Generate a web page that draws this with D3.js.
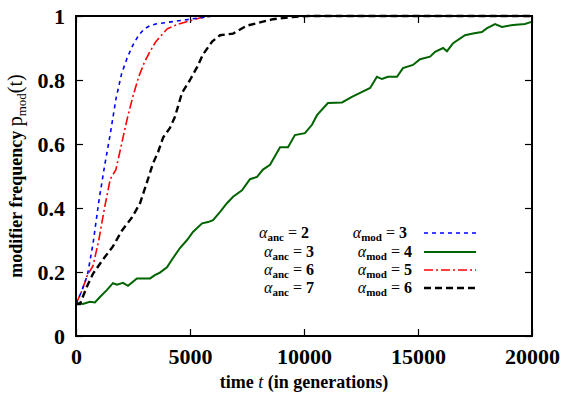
<!DOCTYPE html>
<html>
<head>
<meta charset="utf-8">
<script src="https://cdn.jsdelivr.net/npm/d3@7"></script>
<style>
  body { margin: 0; background: #fff; }
</style>
</head>
<body>
<div id="chart"></div>
<script>
// time points (generations) and modifier frequency for each run
const tBlue = [0, 250, 500, 750, 1000, 1250, 1500, 1750, 2000, 2250, 2500, 2750, 3000, 3250, 3500, 4000, 4500, 5000, 5500, 6000, 20000];
const pBlue = [0.10, 0.14, 0.19, 0.29, 0.42, 0.53, 0.63, 0.74, 0.82, 0.87, 0.91, 0.94, 0.96, 0.97, 0.975, 0.98, 0.985, 0.99, 0.995, 1.0, 1.0];

const tRed = [0, 250, 500, 750, 1000, 1250, 1500, 1750, 2000, 2250, 2500, 2750, 3000, 3250, 3500, 3750, 4000, 4500, 5000, 5500, 6000, 20000];
const pRed = [0.10, 0.14, 0.19, 0.22, 0.30, 0.40, 0.49, 0.52, 0.60, 0.68, 0.75, 0.81, 0.855, 0.89, 0.92, 0.94, 0.96, 0.975, 0.985, 0.995, 1.0, 1.0];

const tBlack = [0, 175, 480, 750, 1190, 1620, 2020, 2450, 2810, 3110, 3380, 3600, 3820, 4120, 4340, 4650, 5000, 5310, 5570, 5970, 6320, 6890, 7500, 8070, 8640, 9520, 10200, 20000];
const pBlack = [0.10, 0.10, 0.155, 0.195, 0.24, 0.28, 0.33, 0.37, 0.415, 0.48, 0.54, 0.575, 0.62, 0.65, 0.685, 0.76, 0.80, 0.84, 0.88, 0.92, 0.94, 0.945, 0.97, 0.98, 0.99, 0.997, 1.0, 1.0];

const tGreen = [0, 90, 300, 610, 830, 1050, 1360, 1620, 1800, 2060, 2280, 2670, 2960, 3250, 3460, 3680, 3990, 4250, 4560, 4870, 5130, 5530, 5790, 6010, 6320, 6620, 6890, 7280, 7630, 7940, 8200, 8510, 8950, 9300, 9600, 10040, 10350, 10570, 11050, 11670, 12100, 12460, 12900, 13200, 13420, 13680, 14080, 14340, 14780, 15090, 15530, 15750, 16100, 16270, 16540, 17060, 17410, 17800, 18030, 18380, 18680, 19170, 19690, 19910, 20000];
const pGreen = [0.10, 0.103, 0.10, 0.107, 0.105, 0.122, 0.144, 0.165, 0.16, 0.166, 0.157, 0.18, 0.18, 0.18, 0.19, 0.198, 0.215, 0.243, 0.275, 0.30, 0.325, 0.352, 0.356, 0.362, 0.388, 0.415, 0.435, 0.455, 0.49, 0.497, 0.52, 0.535, 0.59, 0.59, 0.628, 0.634, 0.66, 0.69, 0.728, 0.73, 0.747, 0.76, 0.775, 0.81, 0.803, 0.81, 0.81, 0.837, 0.847, 0.865, 0.873, 0.888, 0.90, 0.89, 0.915, 0.94, 0.945, 0.95, 0.962, 0.975, 0.966, 0.972, 0.975, 0.98, 0.982];

const xTicks = [0, 5000, 10000, 15000, 20000];
const yTicks = [0, 0.2, 0.4, 0.6, 0.8, 1];

const series = [
  {anc: 2, mod: 3, t: tBlue,  p: pBlue,  color: "#0000ff", dash: "4,4",       width: 1.6},
  {anc: 3, mod: 4, t: tGreen, p: pGreen, color: "#006400", dash: null,        width: 2},
  {anc: 6, mod: 5, t: tRed,   p: pRed,   color: "#ff0000", dash: "9,3,2,3",   width: 1.6},
  {anc: 7, mod: 6, t: tBlack, p: pBlack, color: "#000000", dash: "7,4",       width: 2.4}
];
// draw order like the reference (green under the others)
const drawOrder = [1, 3, 2, 0];

const serif = "'Liberation Serif', 'Times New Roman', 'DejaVu Serif', serif";

const width = 562, height = 396,
    margin = ({top: 16, right: 30, bottom: 60, left: 76});

let svg = d3.select("#chart")
    .append("svg")
    .attr("width", width)
    .attr("height", height)
    .style("font-family", serif);

let x = d3.scaleLinear()
    .domain([0, 20000])
    .range([margin.left, width - margin.right]);

let y = d3.scaleLinear()
    .domain([0, 1])
    .range([height - margin.bottom, margin.top]);

const tick = 7;

const styleAxis = g => {
    g.attr("font-family", null);
    g.select(".domain").remove();
    g.selectAll(".tick line").attr("stroke", "#000").attr("stroke-width", 1.2);
    g.selectAll(".tick text")
        .style("font-family", serif)
        .attr("font-weight", "bold")
        .attr("font-size", 22)
        .attr("fill", "#000");
};

svg.append("g")
    .attr("transform", `translate(0,${height - margin.bottom})`)
    .call(d3.axisBottom(x).tickValues(xTicks).tickFormat(d3.format("d")).tickSize(-tick).tickPadding(12))
    .call(styleAxis);

svg.append("g")
    .attr("transform", `translate(${margin.left},0)`)
    .call(d3.axisLeft(y).tickValues(yTicks).tickFormat(d => d === 0 || d === 1 ? d : d3.format(".1f")(d)).tickSize(-tick).tickPadding(11))
    .call(styleAxis);

svg.append("g")
    .attr("transform", `translate(0,${margin.top})`)
    .call(d3.axisTop(x).tickValues(xTicks).tickFormat("").tickSize(-tick))
    .call(styleAxis);

svg.append("g")
    .attr("transform", `translate(${width - margin.right},0)`)
    .call(d3.axisRight(y).tickValues(yTicks).tickFormat("").tickSize(-tick))
    .call(styleAxis);

// curves
let line = d3.line()
    .x(d => x(d[0]))
    .y(d => y(d[1]));

for (let i of drawOrder) {
    let s = series[i];
    svg.append("path")
        .datum(s.t.map((t, j) => [t, s.p[j]]))
        .attr("fill", "none")
        .attr("stroke", s.color)
        .attr("stroke-width", s.width)
        .attr("stroke-dasharray", s.dash)
        .attr("d", line);
}

// frame
svg.append("rect")
    .attr("x", margin.left)
    .attr("y", margin.top)
    .attr("width", width - margin.left - margin.right)
    .attr("height", height - margin.top - margin.bottom)
    .attr("fill", "none")
    .attr("stroke", "#000")
    .attr("stroke-width", 2);

// axis labels
let xl = svg.append("text")
    .attr("x", (margin.left + width - margin.right) / 2)
    .attr("y", 388)
    .attr("text-anchor", "middle")
    .attr("font-size", 18)
    .attr("font-weight", "bold");
xl.append("tspan").text("time ");
xl.append("tspan").attr("font-style", "italic").attr("font-weight", "normal").text("t");
xl.append("tspan").text(" (in generations)");

let yl = svg.append("text")
    .attr("transform", `translate(22,${(margin.top + height - margin.bottom) / 2}) rotate(-90)`)
    .attr("text-anchor", "middle")
    .attr("font-size", 18)
    .attr("font-weight", "bold");
yl.append("tspan").text("modifier frequency ");
yl.append("tspan").attr("font-weight", "normal").attr("font-size", 20).text("p");
yl.append("tspan").attr("font-weight", "normal").attr("font-size", 13).attr("dy", 4).text("mod");
yl.append("tspan").attr("font-weight", "normal").attr("font-size", 20).attr("dy", -4).text("(t)");

// legend: two right-aligned columns
const legRows = [238, 257, 275, 293];
function legendText(xr, yy, sub, val) {
    let tx = svg.append("text")
        .attr("x", xr)
        .attr("y", yy)
        .attr("text-anchor", "end")
        .attr("font-size", 16);
    tx.append("tspan").attr("font-style", "italic").text("\u03b1");
    tx.append("tspan").attr("font-weight", "bold").attr("font-size", 11).attr("dy", 3).text(sub);
    tx.append("tspan").attr("dy", -3).text(" = ");
    tx.append("tspan").attr("font-weight", "bold").text(val);
}
series.forEach((s, i) => {
    let yy = legRows[i];
    let shift = i === 0 ? -5 : 0;
    legendText(314 + shift, yy, "anc", s.anc);
    legendText(412 + shift, yy, "mod", s.mod);

    svg.append("line")
        .attr("x1", 424).attr("x2", 476)
        .attr("y1", yy - 5).attr("y2", yy - 5)
        .attr("stroke", s.color)
        .attr("stroke-width", s.width)
        .attr("stroke-dasharray", s.dash);
});
</script>
</body>
</html>
